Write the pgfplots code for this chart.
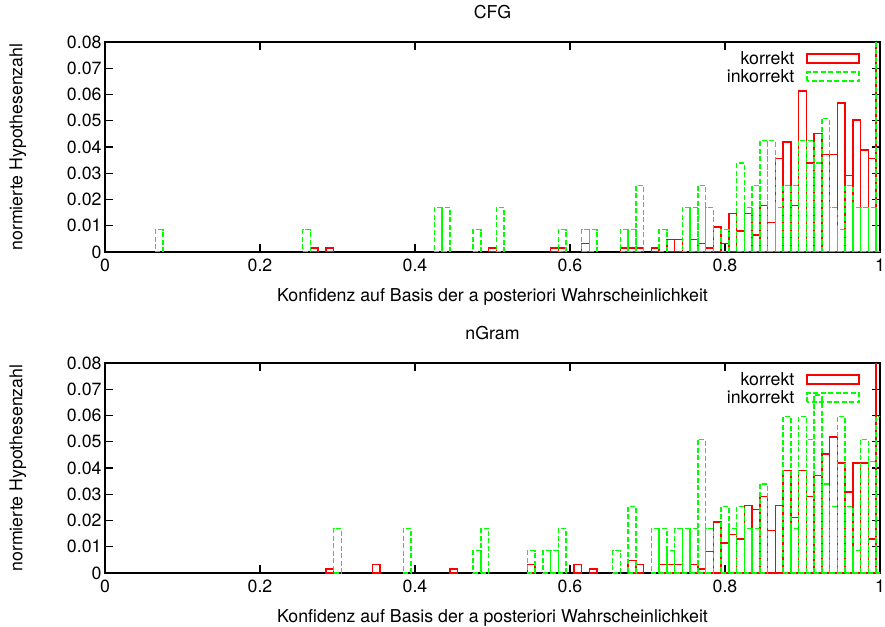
\documentclass[border=0pt]{standalone}
\usepackage{fontspec}
\setmainfont{TeX Gyre Heros}
\usepackage{pgfplots}
\pgfplotsset{compat=1.18}
\definecolor{gpred}{rgb}{1,0,0}
\definecolor{gpgreen}{rgb}{0,1,0}
\pgfplotsset{
  boxleg/.style={legend image code/.code={\draw[##1] (0bp,-4.5bp) rectangle (52bp,4.5bp);}},
  redbar/.style={ybar, bar width=0.01, bar shift=0pt, draw=gpred, fill=none, line width=1.5bp, boxleg},
  greenbar/.style={ybar, bar width=0.01, bar shift=0pt, draw=gpgreen, fill=none, line width=1.5bp, dash pattern=on 5bp off 2.5bp, boxleg},
  gpaxis/.style={
    scale only axis, width=775bp, height=210bp,
    xmin=0, xmax=1, ymin=0, ymax=0.08,
    enlargelimits=false,
    xtick={0,0.2,0.4,0.6,0.8,1},
    ytick={0,0.01,0.02,0.03,0.04,0.05,0.06,0.07,0.08},
    tick align=inside,
    major tick length=8bp,
    axis line style={line width=1.3bp},
    every tick/.style={black, line width=1.1bp},
    font=\fontsize{17.8}{21}\selectfont,
    tick label style={font=\fontsize{17.8}{21}\selectfont},
    xticklabel style={yshift=-3bp},
    /pgf/number format/assume math mode=true,
    /pgf/number format/fixed,
    /pgf/number format/precision=2,
    scaled ticks=false,
    xlabel={Konfidenz auf Basis der a posteriori Wahrscheinlichkeit},
    ylabel={normierte Hypothesenzahl},
    xlabel style={at={(axis description cs:0.5,-0.214)}, anchor=center},
    ylabel style={at={(axis description cs:-0.1123,0.5)}, anchor=center},
    title style={at={(axis description cs:0.5,1.114)}, anchor=center},
    legend plot pos=right,
    legend cell align=right,
    legend style={draw=none, fill=none, inner sep=0pt, outer sep=0pt,
      at={(axis description cs:0.974,0.955)}, anchor=north east,
      font=\fontsize{17.8}{21}\selectfont,
      row sep=3.5bp, column sep=0bp,
      nodes={inner sep=0pt}},
  }
}
\newcommand{\lgap}{\rule{12bp}{0pt}}
\begin{document}
\begin{tikzpicture}
\path[use as bounding box] (-105bp,-375bp) rectangle (780bp,252bp);
\begin{axis}[gpaxis, title={CFG}, at={(0,0)}, anchor=south west]
\addplot[redbar] coordinates {
(0.27,0.0016) (0.29,0.0016) (0.50,0.0016) (0.58,0.0016) (0.59,0.0016)
(0.62,0.0032) (0.67,0.0016) (0.68,0.0016) (0.69,0.0016) (0.71,0.0016)
(0.73,0.0048) (0.74,0.0048) (0.76,0.0048) (0.77,0.0032) (0.78,0.0016)
(0.79,0.0096) (0.80,0.0032) (0.81,0.0146) (0.82,0.0080) (0.83,0.0146)
(0.84,0.0064) (0.85,0.0178) (0.86,0.0113) (0.87,0.0356) (0.88,0.0420)
(0.89,0.0178) (0.90,0.0613) (0.91,0.0340) (0.92,0.0452) (0.93,0.0372)
(0.94,0.0372) (0.95,0.0567) (0.96,0.0291) (0.97,0.0502) (0.98,0.0389)
(0.99,0.0356) (1.00,0.1000)
};
\addlegendentry{korrekt\lgap}
\addplot[greenbar] coordinates {
(0.07,0.0085) (0.26,0.0085) (0.43,0.0170) (0.44,0.0170) (0.48,0.0085)
(0.51,0.0170) (0.59,0.0085) (0.62,0.0085) (0.63,0.0085) (0.67,0.0085)
(0.68,0.0085) (0.69,0.0254) (0.72,0.0085) (0.75,0.0170) (0.76,0.0170)
(0.77,0.0254) (0.78,0.0170) (0.80,0.0085) (0.82,0.0340) (0.83,0.0170)
(0.84,0.0254) (0.85,0.0424) (0.86,0.0424) (0.87,0.0170) (0.88,0.0254)
(0.89,0.0254) (0.90,0.0424) (0.91,0.0424) (0.92,0.0340) (0.93,0.0509)
(0.94,0.0170) (0.95,0.0085) (0.96,0.0254) (0.97,0.0170) (0.98,0.0170)
(0.99,0.0170) (1.00,0.1000)
};
\addlegendentry{inkorrekt\lgap}
\end{axis}
\begin{axis}[gpaxis, title={nGram}, at={(0,-321bp)}, anchor=south west]
\addplot[redbar] coordinates {
(0.29,0.0016) (0.35,0.0032) (0.45,0.0016) (0.55,0.0032) (0.61,0.0032)
(0.63,0.0016) (0.68,0.0048) (0.69,0.0032) (0.72,0.0032) (0.73,0.0032)
(0.74,0.0032) (0.76,0.0032) (0.77,0.0016) (0.78,0.0081) (0.79,0.0194)
(0.80,0.0114) (0.81,0.0147) (0.82,0.0129) (0.83,0.0258) (0.84,0.0242)
(0.85,0.0291) (0.86,0.0162) (0.87,0.0258) (0.88,0.0390) (0.89,0.0211)
(0.90,0.0390) (0.91,0.0291) (0.92,0.0372) (0.93,0.0453) (0.94,0.0518)
(0.95,0.0420) (0.96,0.0308) (0.97,0.0420) (0.98,0.0420) (0.99,0.0129)
(1.00,0.1000)
};
\addlegendentry{korrekt\lgap}
\addplot[greenbar] coordinates {
(0.30,0.0170) (0.39,0.0170) (0.48,0.0085) (0.49,0.0170) (0.55,0.0085)
(0.57,0.0085) (0.58,0.0085) (0.59,0.0170) (0.66,0.0085) (0.68,0.0254)
(0.71,0.0170) (0.72,0.0170) (0.73,0.0085) (0.74,0.0170) (0.75,0.0170)
(0.76,0.0170) (0.77,0.0509) (0.78,0.0170) (0.80,0.0254) (0.81,0.0170)
(0.82,0.0254) (0.83,0.0170) (0.84,0.0170) (0.85,0.0340) (0.88,0.0596)
(0.89,0.0170) (0.90,0.0596) (0.91,0.0509) (0.92,0.0679) (0.93,0.0340)
(0.94,0.0254) (0.95,0.0596) (0.96,0.0254) (0.97,0.0085) (0.98,0.0509)
(0.99,0.0424) (1.00,0.0596)
};
\addlegendentry{inkorrekt\lgap}
\end{axis}
\end{tikzpicture}
\end{document}
